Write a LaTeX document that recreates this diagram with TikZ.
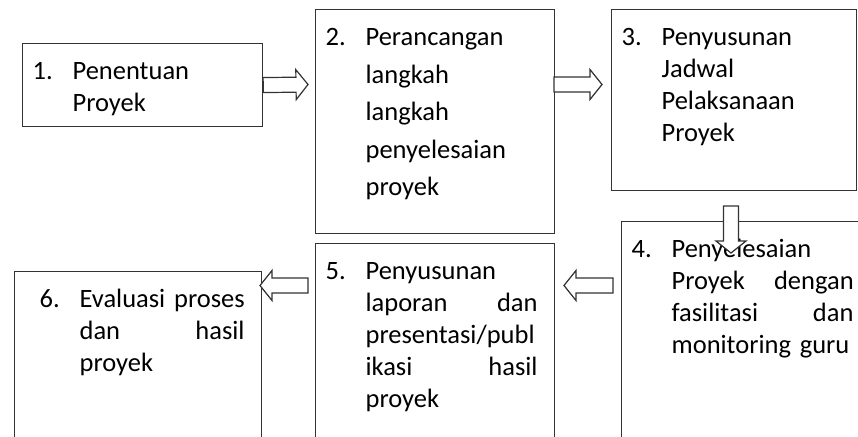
\documentclass[tikz,border=0pt]{standalone}
\usepackage{fontspec}
\setmainfont{Carlito}
\usetikzlibrary{calc}

% numbered text with hanging indent
\newcommand{\langkah}[3][10pt]{%
  \leftskip=#1\rightskip=17pt\hyphenpenalty=10000\tolerance=10000\hfuzz=20pt%
  \hangindent=40pt\hangafter=1\makebox[40pt][l]{#2}#3\par}

% outlined block arrow from #1 to #2
\newcommand{\blockarrow}[2]{%
  \coordinate (h) at ($(#2)!12pt!(#1)$);
  \draw[bigarrow] ($(#1)!7.5pt!90:(#2)$) -- ($(h)!7.5pt!-90:(#1)$) -- ($(h)!15pt!-90:(#1)$)
    -- (#2) -- ($(h)!15pt!90:(#1)$) -- ($(h)!7.5pt!90:(#1)$) -- ($(#1)!7.5pt!-90:(#2)$) -- cycle;}

\begin{document}
\begin{tikzpicture}[
						x=1pt, y=-1pt,
						box/.style = {draw=black!80, line width=1.2pt, rectangle, anchor=north west, inner sep=0pt,
						              text height=36pt, font=\fontsize{26.5}{32}\selectfont},
						bigarrow/.style = {draw=black!80, fill=white, line width=1.2pt, line join=miter},
					]

\useasboundingbox (0,0) rectangle (858,436);
\clip (0,0) rectangle (858,436);

\node[box, text width=240pt, text depth=47pt] (b1) at (22,43) {\langkah{1.}{Penentuan\newline Proyek}};
\node[box, text width=239pt, text depth=188pt, font=\fontsize{26.5}{37.5}\selectfont] (b2) at (315,9)
  {\langkah{2.}{Perancangan\newline langkah\newline langkah\newline penyelesaian\newline proyek}};
\node[box, text width=245pt, text depth=145pt] (b3) at (611,9)
  {\langkah{3.}{Penyusunan\newline Jadwal\newline Pelaksanaan\newline Proyek}};
\node[box, text width=249pt, text depth=224pt] (b4) at (621,221)
  {\langkah{4.}{Penyelesaian\newline Proyek\hfill dengan\newline fasilitasi\hfill dan\newline monitoring guru}};
\node[box, text width=239pt, text depth=194pt] (b5) at (315,243)
  {\langkah{5.}{Penyusunan\newline laporan\hfill dan\newline presentasi/publ\newline ikasi\hfill hasil\newline proyek}};
\node[box, text width=247pt, text depth=164pt] (b6) at (14,271)
  {\langkah[25pt]{6.}{\mbox{Evaluasi proses}\newline dan\hfill hasil\newline proyek}};

\coordinate (a12) at (308,84.5);
\coordinate (a23s) at (554,84.5);
\coordinate (a23) at (602,84.5);
\coordinate (a34s) at (731,206);
\coordinate (a34) at (731,253);
\coordinate (a45s) at (613,285.5);
\coordinate (a45) at (564,285.5);
\coordinate (a56s) at (308,285.5);
\coordinate (a56) at (260,285.5);

\blockarrow{b1.east}{a12}
\blockarrow{a23s}{a23}
\blockarrow{a34s}{a34}
\blockarrow{a45s}{a45}
\blockarrow{a56s}{a56}

\end{tikzpicture}
\end{document}
